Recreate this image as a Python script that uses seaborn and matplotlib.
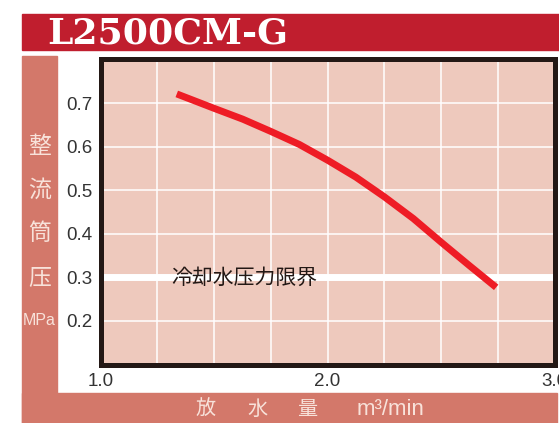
import matplotlib
matplotlib.use('Agg')
import matplotlib.pyplot as plt
import matplotlib.transforms as mtransforms
from matplotlib.patches import Rectangle
import seaborn as sns
import pandas as pd

# data
flow = [1.336, 1.5, 1.627, 1.75, 1.876, 2.0, 2.125, 2.25, 2.378, 2.5, 2.625, 2.743]
pressure = [0.721, 0.688, 0.663, 0.635, 0.605, 0.569, 0.530, 0.485, 0.435, 0.381, 0.327, 0.277]
limit_value = 0.3
limit_label = '冷却水压力限界'
title = 'L2500CM-G'
y_ticks = [0.2, 0.3, 0.4, 0.5, 0.6, 0.7]
x_ticks = [1.0, 1.25, 1.5, 1.75, 2.0, 2.25, 2.5, 2.75, 3.0]
x_ticklabels = ['1.0', '', '', '', '2.0', '', '', '', '3.0']
y_label_chars = ['整', '流', '筒', '压', 'MPa']
y_label_pos = [0.6, 0.5, 0.4, 0.3, 0.2]
x_label_parts = ['放', '水', '量', 'm³/min']

sns.set_style('white')
plt.rcParams['font.family'] = ['Noto Sans CJK JP', 'DejaVu Sans']

W, H = 559, 423
fig = plt.figure(figsize=(W / 100, H / 100), dpi=100)

def fig_rect(x0, y0, x1, y1, color):
    # pixel box measured from top-left, kept under the axes
    fig.patches.append(Rectangle((x0 / W, 1 - y1 / H), (x1 - x0) / W, (y1 - y0) / H,
                                 transform=fig.transFigure, color=color, zorder=-1))

red = '#C01E2E'
salmon = '#D3786A'
fig_rect(22, 14, 559, 50, red)
fig_rect(22, 56, 57, 423, salmon)
fig_rect(22, 393, 557, 423, salmon)

fig.text(47 / W, 1 - 33 / H, title, color='white', fontsize=26, fontweight='bold',
         family='DejaVu Serif', va='center', ha='left')

ax = fig.add_axes([100.5 / W, 1 - 364.5 / H, 454 / W, 305 / H])
ax.set_facecolor('#EEC9BD')

df = pd.DataFrame({'flow': flow, 'pressure': pressure})
ax.axhline(limit_value, color='white', lw=5, zorder=2)
sns.lineplot(data=df, x='flow', y='pressure', ax=ax, color='#EE1C25', lw=5,
             solid_capstyle='butt', solid_joinstyle='round', zorder=3)
ax.text(1.313, limit_value, limit_label, fontsize=15, color='#231815',
        va='center', ha='left', zorder=4)

ax.set_xlim(1.0, 3.0)
ax.set_ylim(0.1, 0.8)
ax.set_xticks(x_ticks)
ax.set_xticklabels(x_ticklabels)
ax.set_yticks(y_ticks)
ax.set_yticklabels([f'{v:.1f}' for v in y_ticks])
ax.grid(True, color='white', lw=1.1)
ax.set_axisbelow(True)
ax.tick_params(length=0, pad=6, labelsize=13.5, labelcolor='#333333')
for lab in ax.get_xticklabels() + ax.get_yticklabels():
    lab.set_family('Liberation Sans')
ax.set_xlabel('')
ax.set_ylabel('')
for sp in ax.spines.values():
    sp.set_visible(True)
    sp.set_color('#231815')
    sp.set_linewidth(3.6)

light = '#F8E2DA'
trans = mtransforms.blended_transform_factory(fig.transFigure, ax.transData)
for ch, yv in zip(y_label_chars, y_label_pos):
    if ch == 'MPa':
        ax.text(39 / W, yv, ch, transform=trans, fontsize=11.5, color=light,
                ha='center', va='center', family='Liberation Sans', clip_on=False)
    else:
        ax.text(40 / W, yv, ch, transform=trans, fontsize=16.5, color=light,
                ha='center', va='center', clip_on=False)

for part, xp in zip(x_label_parts, [206, 257, 307, 390]):
    if part.startswith('m'):
        fig.text(xp / W, 1 - 409 / H, part, fontsize=16, color=light,
                 ha='center', va='center', family='Liberation Sans')
    else:
        fig.text(xp / W, 1 - 409 / H, part, fontsize=14.5, color=light,
                 ha='center', va='center')

fig.savefig('out.png', dpi=100)
